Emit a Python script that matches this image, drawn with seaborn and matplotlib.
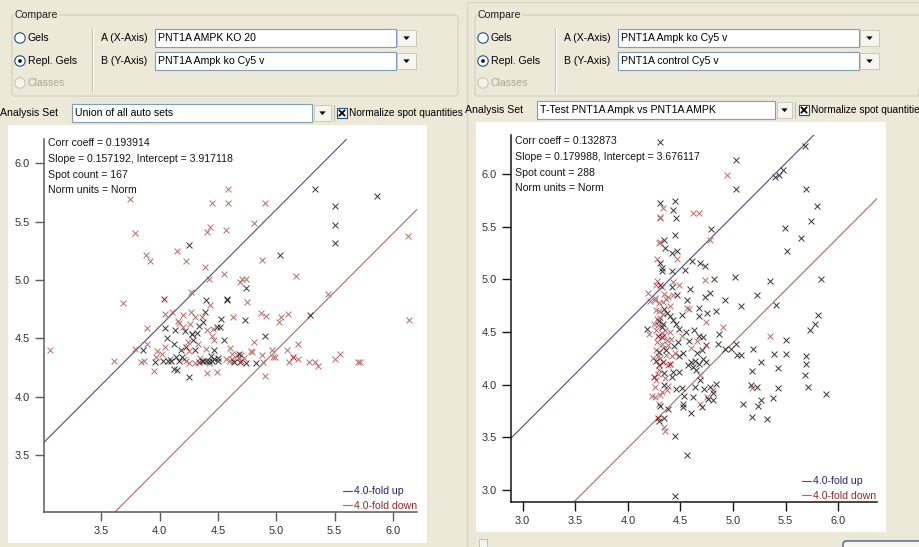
import numpy as np
import pandas as pd
import matplotlib
matplotlib.use("Agg")
import matplotlib.pyplot as plt
from matplotlib.patches import Rectangle, Circle, Polygon, FancyBboxPatch
import seaborn as sns

# ---------------------------------------------------------------- data
# Left comparison: A = PNT1A AMPK KO 20, B = PNT1A Ampk ko Cy5 v (log10 spot volumes)
left_x = [4.59, 3.75, 4.45, 4.59, 4.90, 5.33, 5.86, 5.50, 5.50, 5.50, 6.13, 3.79, 4.43, 4.41, 4.57,
          4.81, 3.88, 3.92, 4.15, 4.25, 4.23, 4.39, 4.42, 4.55, 4.88, 5.03, 5.17, 4.71, 4.74, 4.69,
          4.74, 4.27, 4.04, 3.69, 4.40, 4.43, 4.58, 4.58, 4.75, 5.44, 4.05, 4.11, 4.20, 4.16, 4.27,
          4.30, 4.36, 4.39, 4.53, 4.63, 4.73, 4.87, 4.91, 5.02, 5.04, 5.10, 5.29, 6.14, 3.89, 4.05,
          4.13, 4.17, 4.22, 4.28, 4.28, 4.34, 4.41, 4.49, 4.52, 4.55, 4.47, 4.45, 4.29, 4.06, 4.90,
          4.81, 5.19, 3.06, 3.79, 3.86, 3.89, 3.98, 4.05, 4.18, 4.23, 4.25, 4.30, 4.40, 4.62, 4.68,
          4.78, 4.96, 5.09, 5.55, 4.97, 5.14, 3.61, 3.84, 3.87, 3.96, 3.97, 4.03, 4.07, 4.10, 4.14,
          4.17, 4.21, 4.23, 4.25, 4.30, 4.34, 4.36, 4.37, 4.40, 4.42, 4.45, 4.47, 4.50, 4.50, 4.42,
          4.62, 4.66, 4.70, 4.69, 4.70, 4.74, 4.79, 4.83, 4.89, 4.99, 5.11, 5.19, 5.28, 5.33, 5.36,
          5.50, 5.70, 5.72, 3.95, 4.12, 4.15, 4.25, 4.41, 4.49, 4.90, 4.20, 4.26, 4.32, 4.37, 4.46,
          4.24, 4.33, 4.12, 4.60, 4.63, 4.47, 4.60, 4.88, 4.02, 4.68, 4.72, 4.44, 4.35, 4.19, 4.57,
          4.09, 4.64]
left_y = [5.78, 5.69, 5.66, 5.66, 5.66, 5.78, 5.72, 5.63, 5.47, 5.32, 5.38, 5.40, 5.45, 5.41, 5.43,
          5.49, 5.21, 5.16, 5.25, 5.30, 5.16, 5.11, 5.01, 5.05, 5.17, 5.21, 5.03, 5.01, 5.01, 4.98,
          4.93, 4.90, 4.84, 4.80, 4.83, 4.79, 4.84, 4.83, 4.81, 4.88, 4.71, 4.73, 4.70, 4.65, 4.73,
          4.68, 4.68, 4.73, 4.67, 4.68, 4.66, 4.72, 4.69, 4.64, 4.68, 4.71, 4.70, 4.66, 4.59, 4.59,
          4.57, 4.63, 4.56, 4.54, 4.54, 4.61, 4.57, 4.60, 4.60, 4.49, 4.49, 4.52, 4.49, 4.50, 4.52,
          4.47, 4.45, 4.40, 4.41, 4.40, 4.45, 4.39, 4.43, 4.40, 4.43, 4.39, 4.40, 4.41, 4.37, 4.37,
          4.39, 4.40, 4.40, 4.37, 4.34, 4.34, 4.31, 4.30, 4.31, 4.30, 4.34, 4.31, 4.31, 4.31, 4.34,
          4.31, 4.32, 4.31, 4.29, 4.29, 4.30, 4.31, 4.31, 4.31, 4.31, 4.31, 4.32, 4.33, 4.31, 4.29,
          4.32, 4.36, 4.36, 4.30, 4.31, 4.29, 4.38, 4.29, 4.30, 4.34, 4.30, 4.32, 4.30, 4.30, 4.26,
          4.32, 4.30, 4.30, 4.22, 4.24, 4.23, 4.17, 4.20, 4.21, 4.18, 4.60, 4.62, 4.55, 4.64, 4.58,
          4.47, 4.45, 4.45, 4.31, 4.31, 4.40, 4.42, 4.36, 4.37, 4.33, 4.33, 4.35, 4.33, 4.34, 4.32,
          4.32, 4.30]
# spot colour class: k = grey/black, r = red, d = dark red
left_g = list("rrrrrkkkkkrrrrr" "rrrrkrrrrrkrrrr" "krdrkrkkrrrrrrr" "rrkkrkrrrrrkrrk"
              "krkdkkrkkkrrkkk" "rrrrkrrrkdrkrrk" "rrrrrdrrrkrkkkk" "krrrrdkkkkkkkkr"
              "rrrdrkrkrrrrrrr" "rrrrkkkrrrrrkkr" "rrkrrkrrrrrkrkr" "rk")

# Right comparison: A = PNT1A Ampk ko Cy5 v, B = PNT1A control Cy5 v
right_x = [4.31, 5.03, 5.68, 4.94, 5.03, 5.40, 5.44, 5.47, 5.69, 5.80, 5.74, 5.49, 5.65, 5.51, 5.84,
           5.35, 5.02, 4.82, 4.73, 5.23, 4.31, 4.45, 4.33, 4.43, 4.31, 4.31, 4.46, 4.62, 4.68, 4.79,
           4.45, 4.34, 4.30, 4.31, 4.35, 4.42, 4.47, 4.28, 4.31, 4.32, 4.32, 4.47, 4.42, 4.54, 4.61,
           4.69, 4.73, 4.78, 4.28, 4.31, 4.32, 4.27, 4.43, 4.49, 4.42, 4.59, 4.19, 4.26, 4.34, 4.38,
           4.43, 4.47, 4.73, 4.78, 4.56, 4.92, 4.21, 4.26, 4.30, 4.36, 5.08, 5.41, 4.56, 4.58, 4.68,
           4.75, 4.84, 4.68, 4.74, 4.40, 4.43, 4.46, 4.51, 4.27, 4.30, 4.33, 4.37, 4.34, 4.30, 4.33,
           4.18, 4.20, 4.27, 4.32, 4.32, 4.29, 4.32, 4.34, 4.37, 4.38, 4.32, 4.49, 4.51, 4.58, 4.68,
           4.71, 4.66, 4.74, 4.87, 4.86, 4.90, 4.70, 4.92, 4.98, 5.03, 5.04, 5.08, 5.19, 5.35, 5.50,
           5.39, 5.50, 5.27, 5.43, 5.18, 5.69, 5.69, 5.68, 5.73, 5.78, 5.81, 5.71, 5.88, 5.43, 5.17,
           5.18, 5.23, 5.38, 5.27, 5.24, 5.09, 5.18, 5.32, 4.24, 4.29, 4.27, 4.30, 4.33, 4.38, 4.40,
           4.30, 4.34, 4.25, 4.27, 4.42, 4.43, 4.45, 4.49, 4.49, 4.57, 4.60, 4.64, 4.62, 4.68, 4.74,
           4.71, 4.65, 4.69, 4.69, 4.34, 4.38, 4.32, 4.37, 4.46, 4.51, 4.64, 4.72, 4.78, 4.84, 4.81,
           4.81, 4.53, 4.62, 4.75, 4.76, 4.81, 4.69, 4.52, 4.52, 4.70, 4.60, 4.23, 4.26, 4.30, 4.31,
           4.38, 4.29, 4.34, 4.30, 4.34, 4.35, 4.45, 4.56, 4.45, 4.28, 4.31, 4.29, 4.35, 4.28, 4.33,
           4.30, 4.27, 4.36, 4.31, 4.29, 4.35, 4.26, 4.31, 4.33, 4.40, 4.25, 4.36, 4.41, 4.44, 4.40,
           4.42, 4.48, 4.52, 4.55, 4.63, 4.60, 4.66]
right_y = [6.30, 6.13, 6.27, 5.99, 5.86, 5.97, 5.99, 6.04, 5.86, 5.70, 5.55, 5.49, 5.39, 5.27, 5.00,
           4.98, 5.02, 5.00, 4.99, 4.85, 5.72, 5.74, 5.68, 5.66, 5.59, 5.58, 5.58, 5.63, 5.63, 5.48,
           5.42, 5.37, 5.34, 5.35, 5.30, 5.25, 5.27, 5.19, 5.15, 5.11, 5.08, 5.19, 5.08, 5.09, 5.17,
           5.15, 5.13, 5.37, 4.98, 4.95, 4.93, 4.95, 4.97, 4.95, 4.93, 4.91, 4.87, 4.82, 4.86, 4.83,
           4.85, 4.85, 4.83, 4.87, 4.80, 4.80, 4.79, 4.80, 4.77, 4.81, 4.75, 4.76, 4.73, 4.72, 4.73,
           4.68, 4.70, 4.65, 4.59, 4.65, 4.61, 4.58, 4.66, 4.71, 4.70, 4.67, 4.68, 4.72, 4.60, 4.58,
           4.53, 4.48, 4.52, 4.55, 4.49, 4.46, 4.45, 4.47, 4.42, 4.38, 4.39, 4.53, 4.46, 4.41, 4.46,
           4.45, 4.41, 4.38, 4.48, 4.39, 4.55, 4.33, 4.34, 4.34, 4.39, 4.28, 4.28, 4.34, 4.46, 4.42,
           4.29, 4.29, 4.21, 4.16, 4.13, 4.27, 4.20, 4.09, 4.52, 4.58, 4.66, 3.98, 3.91, 3.97, 4.00,
           3.97, 3.98, 3.87, 3.85, 3.80, 3.82, 3.69, 3.67, 4.25, 4.27, 4.22, 4.19, 4.21, 4.19, 4.20,
           4.14, 4.11, 4.07, 4.04, 4.07, 4.12, 4.30, 4.27, 4.12, 4.19, 4.21, 4.22, 4.17, 4.20, 4.21,
           4.24, 4.14, 4.09, 4.04, 4.00, 3.99, 3.93, 3.95, 3.96, 3.97, 3.98, 3.96, 3.98, 4.01, 3.95,
           3.92, 3.89, 3.88, 3.88, 3.86, 3.85, 3.82, 3.82, 3.79, 3.79, 3.73, 3.89, 3.88, 3.82, 3.80,
           3.77, 3.68, 3.68, 3.65, 3.60, 3.56, 3.51, 3.33, 2.94, 4.62, 4.63, 4.57, 4.52, 4.40, 4.35,
           4.31, 4.33, 4.28, 4.25, 4.10, 4.06, 3.98, 3.90, 4.78, 4.75, 4.58, 4.33, 4.43, 4.37, 4.50,
           4.27, 4.40, 4.30, 4.50, 4.52, 4.35, 4.30]
right_g = list("kkkrkkkkkkkkkkk" "kkkrkkkrkrrkrrk" "kkrrkkkrkkkrkkk" "kkrrdrrrrkkrrrr"
               "rkkkkkrrrrkkrrk" "kkkrkkkkrrrkkkk" "krrkrddrrrrkrkk" "krdkkrkkkkkkkrk"
               "kkkkkkkkkkkkkkk" "rkkkkkkkrrkddrd" "rkdrkkrkkkkkkkk" "kkrkkrrrkkkkkkr"
               "kkkrkkrkkkkrrrk" "kdkkrrkkkrrrrrr" "krrrrrrrrrrkrkr" "rkkkkrk")

left_stats = ["Corr coeff = 0.193914", "Slope = 0.157192, Intercept = 3.917118",
              "Spot count = 167", "Norm units = Norm"]
right_stats = ["Corr coeff = 0.132873", "Slope = 0.179988, Intercept = 3.676117",
               "Spot count = 288", "Norm units = Norm"]

left_ticks = [3.5, 4.0, 4.5, 5.0, 5.5, 6.0]
right_ticks = [3.0, 3.5, 4.0, 4.5, 5.0, 5.5, 6.0]
fold_change = 4.0

# ---------------------------------------------------------------- style
W, H = 920, 547
sns.set_theme(style="white")
plt.rcParams['font.family'] = ['Liberation Sans', 'DejaVu Sans']
FS = 7.6
BEIGE = '#ECE9D8'
GRAYTXT = '#ACA899'
PAL = {'k': '#333333', 'r': '#b46a6a', 'd': '#9b1414'}
UP_COL, DOWN_COL = '#4b4b90', '#a86a6a'
UP_TXT, DOWN_TXT = '#23236e', '#8e2a2a'

fig = plt.figure(figsize=(W / 100, H / 100), dpi=100, facecolor=BEIGE)
bg = fig.add_axes([0, 0, 1, 1])
bg.set_xlim(0, W)
bg.set_ylim(H, 0)
bg.axis('off')


def frac(x0, y0, x1, y1):
    return [x0 / W, 1 - y1 / H, (x1 - x0) / W, (y1 - y0) / H]


def label(x, y, s, color='black', size=FS):
    bg.text(x, y, s, fontsize=size, color=color, va='center', ha='left')


def groupbox(x0, y0, x1, y1, title):
    bg.add_patch(FancyBboxPatch((x0, y0), x1 - x0, y1 - y0,
                                boxstyle="round,pad=0,rounding_size=3",
                                fc='none', ec='#D0D0BF', lw=0.8))
    bg.text(x0 + 3, y0, title, fontsize=FS, color='#202020', va='center', ha='left',
            bbox=dict(fc=BEIGE, ec='none', pad=0.6))


def radio(cx, cy, text, selected=False, enabled=True):
    ec = '#1C5180' if enabled else '#C8C6BB'
    bg.add_patch(Circle((cx, cy), 5.2, fc='white' if enabled else '#F4F3EE', ec=ec, lw=0.8))
    if selected:
        bg.add_patch(Circle((cx, cy), 1.9, fc='#1a1a1a', ec='none'))
    label(cx + 8, cy, text, color='black' if enabled else GRAYTXT)


def combo(x0, y0, x1, y1, text, bx0, bx1):
    bg.add_patch(Rectangle((x0, y0), x1 - x0, y1 - y0, fc='white', ec='#7F9DB9', lw=0.8))
    label(x0 + 3, (y0 + y1) / 2, text)
    bg.add_patch(Rectangle((bx0, y0 + 1), bx1 - bx0, y1 - y0 - 2, fc='#F6F5F0',
                           ec='#C9C7BA', lw=0.7))
    cx, cy = (bx0 + bx1) / 2, (y0 + y1) / 2
    bg.add_patch(Polygon([[cx - 3.2, cy - 1.6], [cx + 3.2, cy - 1.6], [cx, cy + 2.0]],
                         closed=True, fc='black', ec='none'))


def checkbox(x0, y0, size, checked=True):
    bg.add_patch(Rectangle((x0, y0), size, size, fc='white', ec='#1C5180', lw=0.8))
    if checked:
        bg.plot([x0 + 2.3, x0 + size - 2.3], [y0 + 2.3, y0 + size - 2.3], color='black', lw=1.3)
        bg.plot([x0 + 2.3, x0 + size - 2.3], [y0 + size - 2.3, y0 + 2.3], color='black', lw=1.3)


def control_block(ox, a_text, b_text, set_text, set_box, arrow_box, chk_x, y_set):
    groupbox(ox + 12, 15, ox + 458, 96, "Compare")
    radio(ox + 20, 38, "Gels")
    radio(ox + 20, 61, "Repl. Gels", selected=True)
    radio(ox + 20, 83, "Classes", enabled=False)
    bg.plot([ox + 92, ox + 92], [28, 92], color='#C5C2B2', lw=0.8)
    bg.plot([ox + 93, ox + 93], [28, 92], color='white', lw=0.8)
    label(ox + 101, 38, "A (X-Axis)")
    label(ox + 101, 61, "B (Y-Axis)")
    combo(ox + 155, 29, ox + 396, 47, a_text, ox + 397, ox + 416)
    combo(ox + 155, 52, ox + 396, 70, b_text, ox + 397, ox + 416)
    label(set_box[0] - 72, y_set, "Analysis Set")
    combo(set_box[0], y_set - 9, set_box[1], y_set + 9, set_text, arrow_box[0], arrow_box[1])
    bg.plot([arrow_box[1] + 3, arrow_box[1] + 3], [y_set - 8, y_set + 8], color='#C5C2B2', lw=0.8)
    checkbox(chk_x, y_set - 5, 10)
    label(chk_x + 12, y_set, "Normalize spot quantities", size=7.3)


# ---------------------------------------------------------------- window chrome
bg.add_patch(Rectangle((8, 125), 419, 418, fc='white', ec='none'))
bg.add_patch(Rectangle((467, 2), 460, 560, fc='none', ec='#D6D3C4', lw=0.8))
bg.add_patch(Rectangle((476, 122), 410, 410, fc='white', ec='none'))

control_block(0, "PNT1A AMPK KO 20", "PNT1A Ampk ko Cy5 v",
              "Union of all auto sets", (72, 312), (314, 331), 337, 113)
control_block(463, "PNT1A Ampk ko Cy5 v", "PNT1A control Cy5 v",
              "T-Test PNT1A Ampk vs PNT1A AMPK", (537, 775), (777, 792), 799, 110)

# bottom row of the right pane
bg.add_patch(Rectangle((479, 539), 8, 8, fc='#F4F3EE', ec='#B9C3D3', lw=0.7))
bg.add_patch(FancyBboxPatch((843, 541), 90, 16, boxstyle="round,pad=0,rounding_size=3",
                            fc='#F7F7F2', ec='#1C3A70', lw=0.8))


# ---------------------------------------------------------------- scatter panels
def scatter_panel(box, xs, ys, gs, xlim, ylim, xticks, yticks, stats, stats_xy,
                  spine_col, legend_anchor):
    ax = fig.add_axes(frac(*box))
    ax.set_facecolor('none')
    df = pd.DataFrame({'x': xs, 'y': ys, 'g': gs})
    for g in ['r', 'd', 'k']:
        sub = df[df['g'] == g]
        sns.scatterplot(data=sub, x='x', y='y', color=PAL[g], marker='x', s=18,
                        linewidth=0.7, ax=ax, legend=False, zorder=3)
    off = np.log10(fold_change)
    ax.axline((0, off), slope=1, color=UP_COL, lw=0.8,
              label=f"{fold_change:.1f}-fold up", zorder=2)
    ax.axline((0, -off), slope=1, color=DOWN_COL, lw=0.8,
              label=f"{fold_change:.1f}-fold down", zorder=2)
    ax.set_xlim(*xlim)
    ax.set_ylim(*ylim)
    ax.set_xticks(xticks)
    ax.set_yticks(yticks)
    ax.set_xticklabels([f"{t:.1f}" for t in xticks])
    ax.set_yticklabels([f"{t:.1f}" for t in yticks])
    ax.set_xlabel('')
    ax.set_ylabel('')
    for s in ('top', 'right'):
        ax.spines[s].set_visible(False)
    for s in ('left', 'bottom'):
        ax.spines[s].set_color(spine_col)
        ax.spines[s].set_linewidth(1.1)
    ax.tick_params(axis='both', direction='out', length=6.5, width=1.0, color=spine_col,
                   labelsize=7.9, labelcolor='#303030', pad=3.5, left=True, bottom=True)
    ax.grid(False)
    sx, sy = stats_xy
    for i, line in enumerate(stats):
        ax.text(sx, sy + i * 15.8, line, transform=bg.transData, fontsize=FS,
                color='#151515', va='center', ha='left')
    ax.legend(loc='lower right',
              bbox_to_anchor=(legend_anchor[0] / W, 1 - legend_anchor[1] / H),
              bbox_transform=fig.transFigure, frameon=False, fontsize=FS,
              handlelength=0.9, handletextpad=0.15, labelspacing=0.45, borderpad=0,
              borderaxespad=0, labelcolor=[UP_TXT, DOWN_TXT])
    return ax


scatter_panel((44, 139, 417, 512), left_x, left_y, left_g,
              (3.009, 6.206), (3.015, 6.206), left_ticks, left_ticks,
              left_stats, (48, 143), '#5c5c5c', (417, 511))
scatter_panel((511, 135, 877, 502), right_x, right_y, right_g,
              (2.889, 6.368), (2.885, 6.37), right_ticks, right_ticks,
              right_stats, (515, 141), '#151515', (876, 501))

fig.savefig("out.png", dpi=100, facecolor=BEIGE)
